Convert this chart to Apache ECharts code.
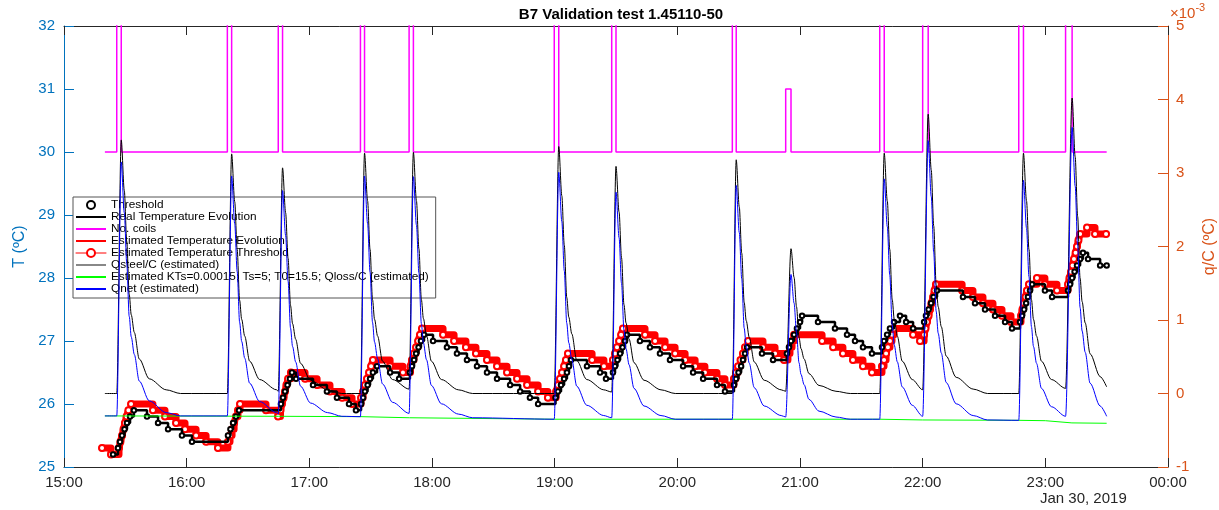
<!DOCTYPE html>
<html>
<head>
<meta charset="utf-8">
<script src="https://cdn.jsdelivr.net/npm/echarts@6/dist/echarts.min.js"></script>
<style>
html,body{margin:0;padding:0;background:#fff;}
#chart{width:1219px;height:510px;}
</style>
</head>
<body>
<div id="chart"></div>
<script>
// ---- Data (time = minutes after 15:00) ----
const hourLabels = ['15:00','16:00','17:00','18:00','19:00','20:00','21:00','22:00','23:00','00:00'];
const dateLabel = 'Jan 30, 2019';
const titleText = 'B7 Validation test 1.45110-50';

// No. coils (left-axis units, drawn as step)
const coilT = [20.0,25.8,28.0,79.9,82.0,104.8,106.9,145.0,147.0,168.8,170.9,239.8,242.0,267.9,270.0,326.9,328.8,353.0,355.6,399.0,401.2,420.0,422.7,467.0,469.3,489.9,493.1,510.0];
const coilV = [30,33,30,33,30,33,30,33,30,33,30,33,30,33,30,33,30,31,30,33,30,33,30,33,30,33,30,30];

// Real temperature evolution (step change points)
const realT = [24.0,26.4,27.4,28.4,29.6,30.8,32.3,34.2,40.6,46.0,50.9,57.7,62.6,
80.2,81.4,82.7,84.1,85.6,
106.1,107.1,108.1,109.3,110.5,111.5,113.5,121.8,128.6,133.5,139.4,142.8,
145.3,146.3,147.2,148.5,149.7,151.1,153.1,159.5,163.9,
169.2,170.2,171.2,172.2,173.4,174.6,176.1,180.5,187.3,192.2,197.1,202.0,206.9,211.8,218.2,223.1,227.9,231.9,
240.4,241.6,243.1,244.6,246.0,247.0,248.0,255.8,262.2,265.1,
268.5,269.5,270.7,272.0,273.2,274.4,275.4,281.7,286.6,291.5,296.4,302.8,307.7,312.6,319.4,323.3,
327.7,328.7,329.9,331.2,332.1,333.1,334.1,341.4,346.8,
353.6,354.6,355.6,357.1,358.5,360.0,361.0,368.8,377.1,383.0,386.9,390.8,395.2,
400.1,401.1,402.6,404.0,406.0,408.9,411.9,415.3,
420.7,421.6,422.9,424.1,425.3,427.0,439.7,445.6,450.5,455.4,460.3,463.7,
467.6,468.6,469.6,470.6,471.5,472.5,473.5,479.8,483.3,
491.1,492.1,493.1,494.3,495.5,497.0,498.4,500.9,506.8,510.0];
const realV = [25.2,25.3,25.4,25.5,25.6,25.7,25.8,25.9,25.8,25.7,25.6,25.5,25.4,
25.5,25.6,25.7,25.8,25.9,
26.0,26.1,26.2,26.3,26.4,26.5,26.4,26.3,26.2,26.1,26.0,25.9,
26.0,26.1,26.2,26.3,26.4,26.5,26.6,26.5,26.4,
26.5,26.6,26.7,26.8,26.9,27.0,27.1,27.0,26.9,26.8,26.7,26.6,26.5,26.4,26.3,26.2,26.1,26.0,
26.1,26.2,26.3,26.4,26.5,26.6,26.7,26.6,26.5,26.4,
26.5,26.6,26.7,26.8,26.9,27.0,27.1,27.0,26.9,26.8,26.7,26.6,26.5,26.4,26.3,26.2,
26.3,26.4,26.5,26.6,26.7,26.8,26.9,26.8,26.7,
26.8,26.9,27.0,27.1,27.2,27.3,27.4,27.3,27.2,27.1,27.0,26.9,26.8,
26.9,27.0,27.1,27.2,27.3,27.4,27.3,27.2,
27.3,27.4,27.5,27.6,27.7,27.8,27.7,27.6,27.5,27.4,27.3,27.2,
27.3,27.4,27.5,27.6,27.7,27.8,27.9,27.8,27.7,
27.8,27.9,28.0,28.1,28.2,28.3,28.4,28.3,28.2,28.2];

// Estimated temperature (step change points)
const estT = [18.6,23.0,26.9,27.6,28.4,29.1,29.8,30.6,31.5,32.8,43.5,49.4,54.8,59.2,64.6,69.5,75.3,
80.2,81.2,82.2,83.2,84.1,85.1,86.1,98.8,104.7,
105.9,106.6,107.4,108.1,108.8,109.6,111.0,117.9,123.8,130.1,136.0,140.9,
145.3,146.3,147.2,148.2,149.2,150.2,151.1,159.5,165.8,
169.5,170.2,171.2,172.2,173.2,174.1,175.1,185.4,190.8,196.6,201.5,206.9,211.8,216.7,221.6,226.5,231.9,236.7,
240.7,241.6,242.6,243.6,244.6,245.5,246.5,258.3,264.1,
268.5,269.5,270.5,271.5,272.5,273.4,284.2,289.1,294.0,298.9,303.8,308.7,313.5,319.4,323.3,
327.7,328.7,329.7,330.9,332.1,333.1,334.6,341.9,347.8,352.2,
354.1,355.1,356.1,357.1,370.8,376.2,381.0,385.9,390.8,395.2,
400.1,401.1,402.1,403.0,404.0,405.0,406.0,415.3,418.7,
420.7,421.4,422.1,422.9,423.6,424.3,425.1,425.8,426.5,439.3,444.6,449.5,454.4,458.8,463.2,
468.1,468.8,469.6,470.3,471.0,472.0,475.9,479.8,485.7,
491.1,491.8,492.6,493.3,494.0,494.8,495.5,496.2,497.0,500.4,504.3,509.7];
const estV = [25.3,25.2,25.3,25.4,25.5,25.6,25.7,25.8,25.9,26.0,25.9,25.8,25.7,25.6,25.5,25.4,25.3,
25.4,25.5,25.6,25.7,25.8,25.9,26.0,25.9,25.8,
25.9,26.0,26.1,26.2,26.3,26.4,26.5,26.4,26.3,26.2,26.1,26.0,
26.1,26.2,26.3,26.4,26.5,26.6,26.7,26.6,26.5,
26.6,26.7,26.8,26.9,27.0,27.1,27.2,27.1,27.0,26.9,26.8,26.7,26.6,26.5,26.4,26.3,26.2,26.1,
26.2,26.3,26.4,26.5,26.6,26.7,26.8,26.7,26.6,
26.7,26.8,26.9,27.0,27.1,27.2,27.1,27.0,26.9,26.8,26.7,26.6,26.5,26.4,26.3,
26.4,26.5,26.6,26.7,26.8,26.9,27.0,26.9,26.8,26.7,
26.8,26.9,27.0,27.1,27.0,26.9,26.8,26.7,26.6,26.5,
26.6,26.7,26.8,26.9,27.0,27.1,27.2,27.1,27.0,
27.1,27.2,27.3,27.4,27.5,27.6,27.7,27.8,27.9,27.8,27.7,27.6,27.5,27.4,27.3,
27.4,27.5,27.6,27.7,27.8,27.9,28.0,27.9,27.8,
27.9,28.0,28.1,28.2,28.3,28.4,28.5,28.6,28.7,28.8,28.7,28.7];

// Right axis (x1e-3): Qsteel/C and Qnet share times
const qTime = [20.0,
25.8,28.0,29.5,30.7,31.9,32.9,34.4,36.8,41.7,50.0,57.0,
79.9,82.0,83.5,84.7,85.9,86.9,88.4,90.8,95.7,104.0,
104.8,106.9,108.4,109.6,110.8,111.8,113.3,115.7,120.6,128.9,135.9,
145.0,147.0,148.5,149.7,150.9,151.9,153.4,155.8,160.7,
168.8,170.9,172.4,173.6,174.8,175.8,177.3,179.7,184.6,192.9,199.9,
239.8,242.0,243.5,244.7,245.9,246.9,248.4,250.8,255.7,264.0,
267.9,270.0,271.5,272.7,273.9,274.9,276.4,278.8,283.7,292.0,299.0,
326.9,328.8,330.3,331.5,332.7,333.7,335.2,337.6,342.5,350.8,
353.0,355.6,357.1,358.3,359.5,360.5,362.0,364.4,369.3,377.6,384.6,
399.0,401.2,402.7,403.9,405.1,406.1,407.6,410.0,414.9,
420.0,422.7,424.2,425.4,426.6,427.6,429.1,431.5,436.4,444.7,451.7,
467.0,469.3,470.8,472.0,473.2,474.2,475.7,478.1,483.0,
489.9,493.1,494.6,495.8,497.0,498.0,499.5,501.9,506.8,510.0];
const qSteel = [0,
0,3.45,2.76,2.07,1.35,1.07,0.83,0.47,0.20,0.05,0,
0,3.26,2.61,1.96,1.27,1.01,0.78,0.44,0.19,0.05,
0.03,3.07,2.46,1.84,1.20,0.95,0.74,0.41,0.18,0.05,0,
0,3.27,2.62,1.96,1.28,1.01,0.78,0.44,0.19,
0.06,3.28,2.62,1.97,1.28,1.02,0.79,0.44,0.19,0.05,0,
0,3.36,2.69,2.02,1.31,1.04,0.81,0.45,0.19,0.05,
0.02,3.09,2.47,1.85,1.21,0.96,0.74,0.42,0.18,0.05,0,
0,3.18,2.54,1.91,1.24,0.99,0.76,0.43,0.18,0.05,
0.03,1.97,1.58,1.18,0.77,0.61,0.47,0.27,0.11,0.03,0,
0,3.27,2.62,1.96,1.28,1.01,0.78,0.44,0.19,
0.05,3.80,3.04,2.28,1.48,1.18,0.91,0.51,0.22,0.06,0,
0,3.27,2.62,1.96,1.28,1.01,0.78,0.44,0.19,
0.07,4.02,3.22,2.41,1.57,1.25,0.96,0.54,0.23,0.09];
const qNet = [-0.305,
-0.305,3.15,2.46,1.77,1.05,0.77,0.53,0.17,-0.10,-0.26,-0.305,
-0.305,2.96,2.31,1.66,0.97,0.71,0.48,0.14,-0.11,-0.26,
-0.28,2.76,2.15,1.53,0.89,0.64,0.43,0.10,-0.13,-0.26,-0.31,
-0.315,2.96,2.31,1.65,0.97,0.70,0.47,0.13,-0.12,
-0.27,2.95,2.29,1.64,0.95,0.69,0.46,0.11,-0.14,-0.28,-0.33,
-0.35,3.01,2.34,1.67,0.96,0.69,0.46,0.10,-0.16,-0.30,
-0.33,2.74,2.12,1.50,0.86,0.61,0.39,0.07,-0.17,-0.30,-0.35,
-0.35,2.83,2.19,1.56,0.89,0.64,0.41,0.08,-0.17,-0.30,
-0.32,1.62,1.23,0.83,0.42,0.26,0.12,-0.08,-0.24,-0.32,-0.35,
-0.35,2.92,2.27,1.61,0.93,0.66,0.43,0.09,-0.16,
-0.31,3.44,2.68,1.92,1.12,0.82,0.55,0.15,-0.14,-0.30,-0.36,
-0.365,2.90,2.25,1.59,0.91,0.64,0.41,0.07,-0.18,
-0.31,3.62,2.82,2.01,1.17,0.85,0.56,0.14,-0.17,-0.31];

// Qloss/C (estimated), right axis
const lossT = [20,105,145,169,240,399,420,467,480,493,510];
const lossV = [-0.305,-0.31,-0.315,-0.33,-0.35,-0.35,-0.36,-0.365,-0.37,-0.40,-0.405];

const names = ['Threshold','Real Temperature Evolution','No. coils','Estimated Temperature Evolution',
  'Estimated Temperature Threshold','Qsteel/C (estimated)',
  'Estimated KTs=0.00015; Ts=5; T0=15.5; Qloss/C (estimated)','Qnet (estimated)'];

// ---- Build ----
const zip = (t, v) => t.map((x, i) => [x, v[i]]);
const FONT = 'Liberation Sans, Arial, Helvetica, sans-serif';
const BLUE_AX = '#0072BD', ORANGE_AX = '#D95319', DARK = '#262626';
const noSym = {opacity: 0};

const chart = echarts.init(document.getElementById('chart'), null, {renderer: 'canvas'});
const option = {
  animation: false,
  backgroundColor: '#ffffff',
  textStyle: {fontFamily: FONT},
  title: {
    text: titleText, left: 616, top: 2, textAlign: 'center',
    textStyle: {fontSize: 15, fontWeight: 'bold', color: '#000', fontFamily: FONT}
  },
  grid: {left: 64, right: 51, top: 26, bottom: 43, containLabel: false, outerBoundsMode: 'none'},
  legend: {
    orient: 'vertical', left: 73, top: 197,
    itemWidth: 30, itemHeight: 10, itemGap: 0,
    padding: [2, 7, 3, 2],
    backgroundColor: '#fff', borderColor: '#555', borderWidth: 1, borderRadius: 0,
    textStyle: {fontSize: 11.8, color: '#000', fontFamily: FONT},
    data: [
      {name: names[0]},
      {name: names[1], itemStyle: noSym},
      {name: names[2], itemStyle: noSym},
      {name: names[3], itemStyle: noSym},
      {name: names[4], lineStyle: {width: 1}},
      {name: names[5], itemStyle: noSym, lineStyle: {color: '#888', width: 2}},
      {name: names[6], itemStyle: noSym},
      {name: names[7], itemStyle: noSym}
    ]
  },
  xAxis: [{
    type: 'value', min: 0, max: 540, interval: 60, position: 'bottom',
    axisLine: {show: true, onZero: false, lineStyle: {color: DARK, width: 1}},
    axisTick: {show: true, inside: true, length: 9, lineStyle: {color: DARK}},
    axisLabel: {fontSize: 15, color: DARK, margin: 8, fontFamily: FONT,
      formatter: v => hourLabels[Math.round(v / 60)]},
    splitLine: {show: false}
  }, {
    type: 'value', min: 0, max: 540, interval: 60, position: 'top',
    axisLine: {show: true, onZero: false, lineStyle: {color: DARK, width: 1}},
    axisTick: {show: true, inside: true, length: 9, lineStyle: {color: DARK}},
    axisLabel: {show: false}, splitLine: {show: false}
  }],
  yAxis: [{
    type: 'value', min: 25, max: 32, interval: 1, position: 'left',
    axisLine: {show: true, onZero: false, lineStyle: {color: BLUE_AX, width: 1}},
    axisTick: {show: true, inside: true, length: 10, lineStyle: {color: BLUE_AX}},
    axisLabel: {fontSize: 15, color: BLUE_AX, margin: 9, fontFamily: FONT},
    splitLine: {show: false},
    name: 'T (ºC)', nameLocation: 'middle', nameRotate: 90, nameGap: 36,
    nameTextStyle: {fontSize: 16, color: BLUE_AX, fontFamily: FONT}
  }, {
    type: 'value', min: -1, max: 5, interval: 1, position: 'right',
    axisLine: {show: true, onZero: false, lineStyle: {color: ORANGE_AX, width: 1}},
    axisTick: {show: true, inside: true, length: 10, lineStyle: {color: ORANGE_AX}},
    axisLabel: {fontSize: 15, color: ORANGE_AX, margin: 8, fontFamily: FONT},
    splitLine: {show: false},
    name: 'q/C (ºC)', nameLocation: 'middle', nameRotate: 90, nameGap: 34,
    nameTextStyle: {fontSize: 16, color: ORANGE_AX, fontFamily: FONT}
  }],
  graphic: [{
    type: 'text', left: 1170, top: 2,
    style: {
      text: '{a|×10}{b|-3}',
      rich: {
        a: {fontSize: 15, fill: ORANGE_AX, fontFamily: FONT, verticalAlign: 'bottom'},
        b: {fontSize: 11, fill: ORANGE_AX, fontFamily: FONT, verticalAlign: 'top', padding: [0, 0, 8, 0]}
      }
    }
  }, {
    type: 'text', left: 1040, top: 491,
    style: {text: dateLabel, fontSize: 15, fill: DARK, fontFamily: FONT}
  }],
  series: [
    {
      name: names[2], type: 'line', xAxisIndex: 0, yAxisIndex: 0,
      data: zip(coilT, coilV), step: 'end', symbol: 'none',
      lineStyle: {color: '#FF00FF', width: 1.5}, itemStyle: {color: '#FF00FF'}, z: 2
    },
    {
      name: names[4], type: 'line', yAxisIndex: 0,
      data: zip(estT, estV), step: 'end',
      symbol: 'emptyCircle', symbolSize: 6, showSymbol: true,
      lineStyle: {color: '#FF0000', width: 7, cap: 'round', join: 'round'},
      itemStyle: {color: '#FF0000', borderColor: '#FF0000', borderWidth: 1.5}, z: 3
    },
    {
      name: names[3], type: 'line', yAxisIndex: 0,
      data: zip(estT, estV), step: 'end', symbol: 'none',
      lineStyle: {color: '#FF0000', width: 1}, itemStyle: {color: '#FF0000'}, z: 3
    },
    {
      name: names[1], type: 'line', yAxisIndex: 0,
      data: zip(realT, realV), step: 'end', symbol: 'none',
      lineStyle: {color: '#000', width: 2.5}, itemStyle: {color: '#000'}, z: 4
    },
    {
      name: names[0], type: 'line', yAxisIndex: 0,
      data: zip(realT, realV), symbol: 'emptyCircle', symbolSize: 4.5, showSymbol: true,
      lineStyle: {width: 0, opacity: 0},
      itemStyle: {color: '#000', borderColor: '#000', borderWidth: 1}, z: 5
    },
    {
      name: names[5], type: 'line', yAxisIndex: 1,
      data: zip(qTime, qSteel), symbol: 'none', smooth: 0.3, smoothMonotone: 'x',
      lineStyle: {color: '#000', width: 1}, itemStyle: {color: '#000'}, z: 6
    },
    {
      name: names[6], type: 'line', yAxisIndex: 1,
      data: zip(lossT, lossV), symbol: 'none',
      lineStyle: {color: '#00FF00', width: 1}, itemStyle: {color: '#00FF00'}, z: 6
    },
    {
      name: names[7], type: 'line', yAxisIndex: 1,
      data: zip(qTime, qNet), symbol: 'none', smooth: 0.3, smoothMonotone: 'x',
      lineStyle: {color: '#0000FF', width: 1}, itemStyle: {color: '#0000FF'}, z: 7
    }
  ]
};
chart.setOption(option);
</script>
</body>
</html>
